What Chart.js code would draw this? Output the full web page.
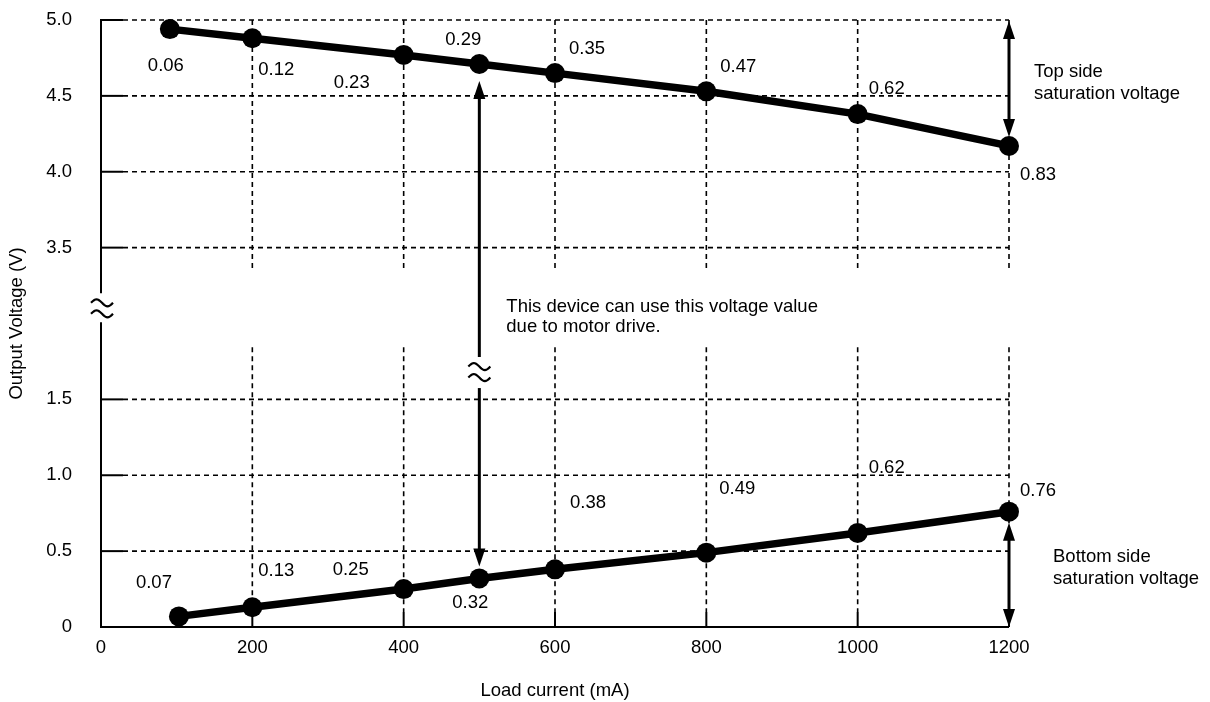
<!DOCTYPE html>
<html>
<head>
<meta charset="utf-8">
<script src="https://cdn.jsdelivr.net/npm/chart.js@4.4.1/dist/chart.umd.min.js"></script>
<style>
body { margin:0; background:#fff; }
#wrap { width:1210px; height:702px; position:relative; }
</style>
</head>
<body>
<div id="wrap"><canvas id="chart"></canvas></div>
<script>
// top side output voltage (V) vs load current (mA)
const currentTop = [91, 200, 400, 500, 600, 800, 1000, 1200];
const voltTop = [4.94, 4.88, 4.77, 4.71, 4.65, 4.53, 4.38, 4.17];
const labelTop = ["0.06", "0.12", "0.23", "0.29", "0.35", "0.47", "0.62", "0.83"];

// bottom side
const currentBottom = [103, 200, 400, 500, 600, 800, 1000, 1200];
const voltBottom = [0.07, 0.13, 0.25, 0.32, 0.38, 0.49, 0.62, 0.76];
const labelBottom = ["0.07", "0.13", "0.25", "0.32", "0.38", "0.49", "0.62", "0.76"];

const xTicks = [0, 200, 400, 600, 800, 1000, 1200];
const yTicks = [0, 0.5, 1.0, 1.5, 3.5, 4.0, 4.5, 5.0];
const yTickLabels = ["0", "0.5", "1.0", "1.5", "3.5", "4.0", "4.5", "5.0"];

// label offsets in px from the point (style only)
const offTop = [[-4,37],[24,32],[-52,28],[-16,-24],[32,-24],[32,-24],[29,-25],[29,29]];
const offBottom = [[-25,-33],[24,-36],[-53,-19],[-9,24],[33,-66],[31,-64],[29,-65],[29,-21]];

// broken axis: everything from 3 V up is drawn 1 V lower
const axisV = v => v >= 3 ? v - 1 : v;
const BREAK = 2.1;

const FONT = {family: '"Liberation Sans", Arial, sans-serif', size: 18.5};
const fontStr = '18.5px "Liberation Sans", Arial, sans-serif';

function seg(ctx, x1, y1, x2, y2) {
    ctx.beginPath(); ctx.moveTo(x1, y1); ctx.lineTo(x2, y2); ctx.stroke();
}

function tilde(ctx, cx, cy, w) {
    ctx.beginPath();
    for (let i = 0; i <= 20; i++) {
        const t = i / 20;
        const px = cx - w/2 + t*w, py = cy - 3.5*Math.sin(2*Math.PI*t);
        if (i === 0) ctx.moveTo(px, py); else ctx.lineTo(px, py);
    }
    ctx.stroke();
}

function breakMark(ctx, cx, cy) {
    ctx.lineWidth = 2.2;
    tilde(ctx, cx, cy - 5.5, 22);
    tilde(ctx, cx, cy + 5.5, 22);
}

function head(ctx, x, tipY, dir) {
    // dir -1 points up, +1 points down
    ctx.beginPath();
    ctx.moveTo(x, tipY);
    ctx.lineTo(x - 6, tipY - dir*18);
    ctx.lineTo(x + 6, tipY - dir*18);
    ctx.closePath();
    ctx.fill();
}

function arrow(ctx, x, yA, yB) {
    ctx.lineWidth = 3;
    seg(ctx, x, yA + 10, x, yB - 10);
    head(ctx, x, yA, -1);
    head(ctx, x, yB, 1);
}

const decor = {
    id: "decor",
    beforeDatasetsDraw(chart) {
        const {ctx, chartArea: a, scales: {x, y}} = chart;
        const bp = y.getPixelForValue(BREAK);
        ctx.save();
        ctx.strokeStyle = "#000";
        ctx.fillStyle = "#000";
        // dashed grid
        ctx.lineWidth = 1.6;
        ctx.setLineDash([5, 4]);
        yTicks.slice(1).forEach(v => {
            const py = y.getPixelForValue(axisV(v));
            seg(ctx, a.left + 22, py, a.right, py);
        });
        xTicks.slice(1).forEach(v => {
            const px = x.getPixelForValue(v);
            seg(ctx, px, a.top, px, bp - 39);
            seg(ctx, px, bp + 39, px, a.bottom - 15);
        });
        ctx.setLineDash([]);
        // tick marks
        ctx.lineWidth = 2;
        yTicks.slice(1).forEach(v => {
            const py = y.getPixelForValue(axisV(v));
            seg(ctx, a.left, py, a.left + 22, py);
        });
        xTicks.slice(1).forEach(v => {
            const px = x.getPixelForValue(v);
            seg(ctx, px, a.bottom - 15, px, a.bottom);
        });
        // axes
        seg(ctx, a.left, a.bottom, a.right, a.bottom);
        seg(ctx, a.left, a.top - 1, a.left, bp - 15);
        seg(ctx, a.left, bp + 14, a.left, a.bottom + 1);
        breakMark(ctx, a.left + 1, bp);
        ctx.restore();
    },
    afterDatasetsDraw(chart) {
        const {ctx, scales: {x, y}} = chart;
        const last = voltTop.length - 1;
        ctx.save();
        ctx.strokeStyle = "#000";
        ctx.fillStyle = "#000";

        // saturation arrows at 1200 mA
        const xr = x.getPixelForValue(currentTop[last]);
        arrow(ctx, xr, y.getPixelForValue(axisV(5.0)) + 1, y.getPixelForValue(axisV(voltTop[last])) - 9);
        arrow(ctx, xr, y.getPixelForValue(voltBottom[last]) + 11, y.getPixelForValue(0));

        // usable range arrow at 500 mA, broken in the middle
        const xm = x.getPixelForValue(currentTop[3]);
        const yt = y.getPixelForValue(axisV(voltTop[3])) + 17;
        const yb = y.getPixelForValue(voltBottom[3]) - 12;
        const mb = y.getPixelForValue(1.68);
        ctx.lineWidth = 3;
        seg(ctx, xm, yt + 10, xm, mb - 15);
        seg(ctx, xm, mb + 16, xm, yb - 10);
        head(ctx, xm, yt, -1);
        head(ctx, xm, yb, 1);
        breakMark(ctx, xm, mb);

        // value labels
        ctx.font = fontStr;
        ctx.textAlign = "center";
        ctx.textBaseline = "middle";
        chart.getDatasetMeta(0).data.forEach((p, i) => {
            ctx.fillText(labelTop[i], p.x + offTop[i][0], p.y + offTop[i][1]);
        });
        chart.getDatasetMeta(1).data.forEach((p, i) => {
            ctx.fillText(labelBottom[i], p.x + offBottom[i][0], p.y + offBottom[i][1]);
        });

        // notes
        ctx.textAlign = "left";
        let ty = y.getPixelForValue(axisV(4.66));
        ctx.fillText("Top side", xr + 25, ty);
        ctx.fillText("saturation voltage", xr + 25, ty + 22);
        ty = y.getPixelForValue(0.46);
        ctx.fillText("Bottom side", xr + 44, ty);
        ctx.fillText("saturation voltage", xr + 44, ty + 22);
        ty = y.getPixelForValue(2.109);
        ctx.fillText("This device can use this voltage value", xm + 27, ty);
        ctx.fillText("due to motor drive.", xm + 27, ty + 20);
        ctx.restore();
    }
};

const lineStyle = {
    borderColor: "#000", backgroundColor: "#000", borderWidth: 7.5,
    pointRadius: 10, pointHoverRadius: 10, pointBackgroundColor: "#000",
    pointBorderWidth: 0, tension: 0, fill: false, clip: false
};

// invisible tick marks only used to space the labels off the axis
const hiddenGrid = {display: true, color: "rgba(0,0,0,0)", drawOnChartArea: false, drawTicks: true};

new Chart(document.getElementById("chart"), {
    type: "line",
    data: {
        datasets: [
            {label: "Top", data: currentTop.map((c, i) => ({x: c, y: axisV(voltTop[i])})), ...lineStyle},
            {label: "Bottom", data: currentBottom.map((c, i) => ({x: c, y: axisV(voltBottom[i])})), ...lineStyle}
        ]
    },
    options: {
        responsive: true,
        maintainAspectRatio: false,
        devicePixelRatio: 1,
        animation: false,
        layout: {padding: {left: 0, top: 20, right: 201, bottom: 0}},
        plugins: {legend: {display: false}, tooltip: {enabled: false}},
        scales: {
            x: {
                type: "linear", min: 0, max: 1200,
                afterFit: s => { s.height = 75; },
                afterBuildTicks: s => { s.ticks = xTicks.map(v => ({value: v})); },
                ticks: {padding: 0, color: "#000", font: FONT, maxRotation: 0, autoSkip: false,
                        callback: v => String(v)},
                grid: {...hiddenGrid, tickLength: 10},
                border: {display: false},
                title: {display: true, text: "Load current (mA)", color: "#000", font: FONT, padding: {top: 0, bottom: 0}}
            },
            y: {
                type: "linear", min: 0, max: 4,
                afterFit: s => { s.width = 101; },
                afterBuildTicks: s => { s.ticks = yTicks.map(v => ({value: axisV(v)})); },
                ticks: {padding: 0, color: "#000", font: FONT, callback: (v, i) => yTickLabels[i]},
                grid: {...hiddenGrid, tickLength: 29},
                border: {display: false},
                title: {display: true, text: "Output Voltage (V)", color: "#000", font: FONT, padding: {top: 6, bottom: 0}}
            }
        }
    },
    plugins: [decor]
});
</script>
</body>
</html>
